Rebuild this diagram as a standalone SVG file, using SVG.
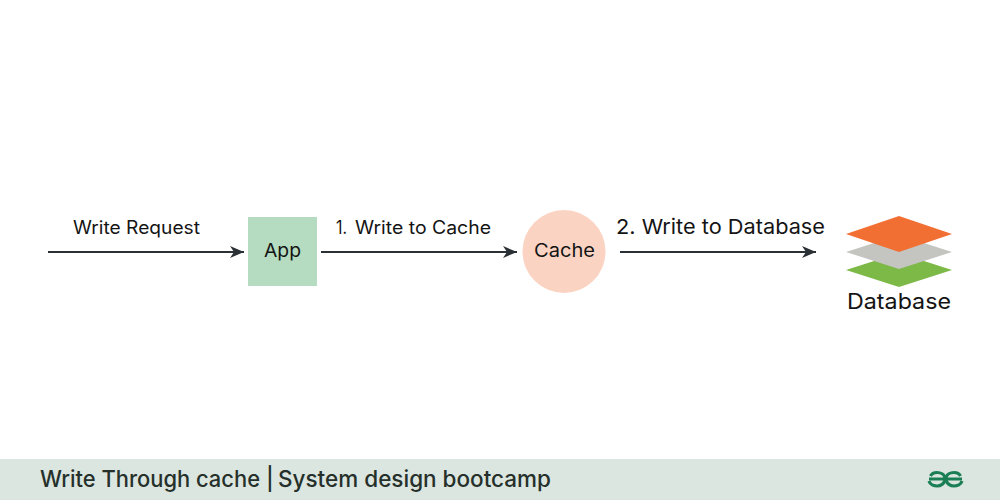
<svg xmlns="http://www.w3.org/2000/svg" width="1000" height="500" viewBox="0 0 1000 500">
<style>
text{font-family:"Inter","Liberation Sans",sans-serif;fill:#141414}
.c{stroke:#2b3035;stroke-width:2;fill:none;marker-end:url(#a)}
</style>
<defs>
<marker id="a" markerUnits="userSpaceOnUse" markerWidth="15" markerHeight="14" refX="14" refY="6.500" orient="auto"><path d="M0 0.500L14 6.500L0 12.500L4 6.500Z" fill="#2b3035"/></marker>
</defs>
<rect width="1000" height="500" fill="#fff"/>
<g id="connectors">
<path class="c" d="M48 252H244"/>
<path class="c" d="M321 252H517"/>
<path class="c" d="M620 252H816"/>
</g>
<text x="73" y="234" font-size="18" textLength="127" lengthAdjust="spacingAndGlyphs">Write Request</text>
<text x="336" y="234" font-size="18" textLength="11" lengthAdjust="spacingAndGlyphs">1.</text>
<text x="355" y="234" font-size="18" textLength="136" lengthAdjust="spacingAndGlyphs">Write to Cache</text>
<text x="616" y="234" font-size="20.500" textLength="209" lengthAdjust="spacingAndGlyphs">2. Write to Database</text>
<g id="app">
<rect x="248" y="217" width="69" height="69" fill="#b5dcc0"/>
<text x="264" y="257" font-size="18.500" textLength="37" lengthAdjust="spacingAndGlyphs">App</text>
</g>
<g id="cache">
<circle cx="564" cy="251.500" r="41.500" fill="#fbd3c3"/>
<text x="534" y="257" font-size="18.500" textLength="61" lengthAdjust="spacingAndGlyphs">Cache</text>
</g>
<g id="database">
<path d="M846 270L899 253L952 270L899 287Z" fill="#7cb946"/>
<path d="M846 252L899 235L952 252L899 269Z" fill="#c4c4c0"/>
<path d="M846 234L899 216L952 234L899 252Z" fill="#f26f33"/>
<text x="847" y="309" font-size="21.500" textLength="104" lengthAdjust="spacingAndGlyphs">Database</text>
</g>
<g id="footer">
<rect y="459" width="1000" height="41" fill="#dce6e0"/>
<text x="40" y="487" font-size="22.500" font-weight="500" style="fill:#26302b" textLength="220" lengthAdjust="spacingAndGlyphs">Write Through cache</text>
<text x="266" y="487" font-size="22.500" font-weight="500" style="fill:#26302b">|</text>
<text x="278" y="487" font-size="22.500" font-weight="500" style="fill:#26302b" textLength="273" lengthAdjust="spacingAndGlyphs">System design bootcamp</text>
<g id="logo" fill="none" stroke="#1b7f55" stroke-width="3.200">
<path d="M929 479H945C945 474 940 472.500 937 472.500C934 472.500 931.500 474 930.500 476"/>
<path d="M945 479C945 484 940 486 937 486C934 486 930 484.500 929 481"/>
<path d="M962 479H946C946 474 951 472.500 954 472.500C957 472.500 959.500 474 960.500 476"/>
<path d="M946 479C946 484 951 486 954 486C957 486 961 484.500 962 481"/>
</g>
</g>
</svg>
